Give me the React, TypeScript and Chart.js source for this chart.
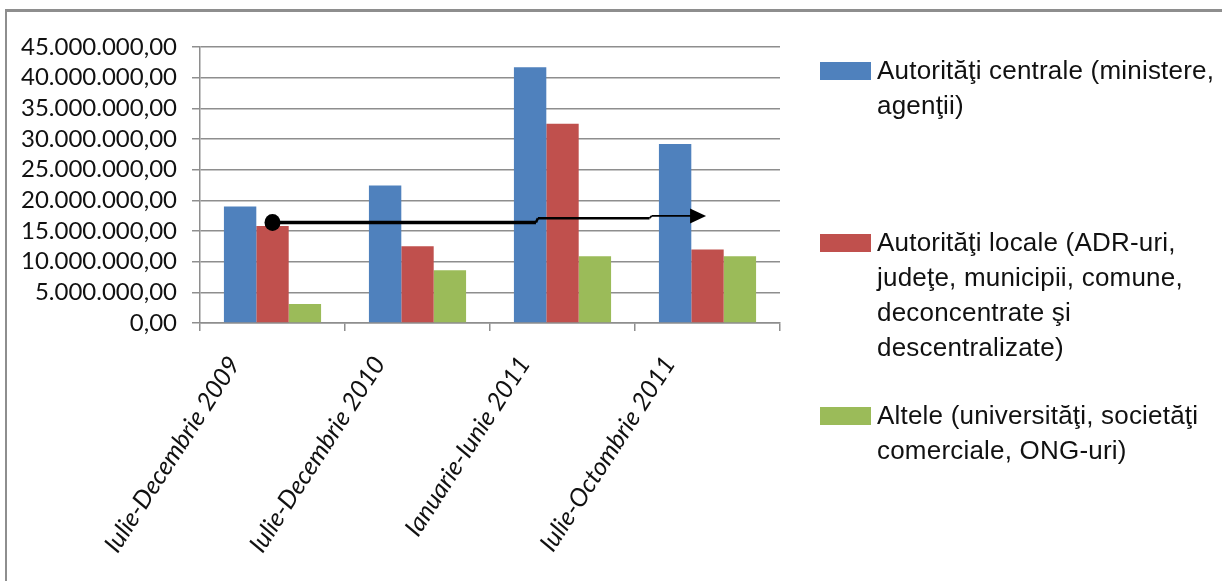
import React, { useEffect, useRef } from "react";
import { Chart, registerables } from "chart.js";

Chart.register(...registerables);

// Reporting periods on the category axis
const CATEGORIES = [
  "Iulie-Decembrie 2009",
  "Iulie-Decembrie 2010",
  "Ianuarie-Iunie 2011",
  "Iulie-Octombrie 2011",
];

// Amounts per beneficiary type (lei)
const CENTRALE = [19.0e6, 22.4e6, 41.7e6, 29.2e6];
const LOCALE = [15.8e6, 12.5e6, 32.5e6, 12.0e6];
const ALTELE = [3.1e6, 8.6e6, 10.9e6, 10.9e6];

// Legend texts, already broken into lines
const NAME_CENTRALE = ["Autorităţi centrale (ministere,", "agenţii)"];
const NAME_LOCALE = [
  "Autorităţi locale (ADR-uri,",
  "judeţe, municipii, comune,",
  "deconcentrate şi",
  "descentralizate)",
];
const NAME_ALTELE = ["Altele (universităţi, societăţi", "comerciale, ONG-uri)"];

// Value-axis ticks
const Y_MIN = 0;
const Y_MAX = 45e6;
const Y_STEP = 5e6;

// Trend arrow: positions in category units, levels in lei
const ARROW_AT = [0, 1.817, 1.83, 2.6, 2.615, 2.99];
const ARROW_LEVEL = [16.4e6, 16.4e6, 17.08e6, 17.08e6, 17.46e6, 17.46e6];

const COLORS = ["#4F81BD", "#C0504D", "#9BBB59"];
const GRID = "#8e8e8e";

const formatLei = (v: number) =>
  Math.round(v)
    .toString()
    .replace(/\B(?=(\d{3})+(?!\d))/g, ".") + ",00";

const arrowPlugin = {
  id: "trendArrow",
  afterDatasetsDraw(chart: any) {
    const { ctx, scales } = chart;
    const xs = ARROW_AT.map((a) => scales.x.getPixelForValue(a));
    const ys = ARROW_LEVEL.map((v) => scales.y.getPixelForValue(v));
    const widths = [3.5, 2.5, 2.5, 1.8, 1.8];
    ctx.save();
    ctx.strokeStyle = "#000";
    ctx.fillStyle = "#000";
    ctx.lineCap = "butt";
    const n = xs.length;
    const headLen = 16;
    for (let i = 0; i < n - 1; i++) {
      ctx.beginPath();
      ctx.lineWidth = widths[i];
      ctx.moveTo(xs[i], ys[i]);
      const endX = i === n - 2 ? xs[i + 1] - headLen + 1 : xs[i + 1];
      ctx.lineTo(endX, ys[i + 1]);
      ctx.stroke();
    }
    // start dot
    ctx.beginPath();
    ctx.ellipse(xs[0], ys[0], 8, 8.5, 0, 0, Math.PI * 2);
    ctx.fill();
    // arrow head
    const tx = xs[n - 1];
    const ty = ys[n - 1];
    ctx.beginPath();
    ctx.moveTo(tx, ty);
    ctx.lineTo(tx - headLen, ty - 7.5);
    ctx.lineTo(tx - headLen, ty + 7.5);
    ctx.closePath();
    ctx.fill();
    ctx.restore();
  },
};

const SERIES = [
  { lines: NAME_CENTRALE, data: CENTRALE },
  { lines: NAME_LOCALE, data: LOCALE },
  { lines: NAME_ALTELE, data: ALTELE },
];

// Top of each legend entry
const LEGEND_TOP = [53, 225, 398];

export default function App() {
  const canvasRef = useRef<HTMLCanvasElement | null>(null);

  useEffect(() => {
    if (!canvasRef.current) return;
    const chart = new Chart(canvasRef.current, {
      type: "bar",
      data: {
        labels: CATEGORIES,
        datasets: SERIES.map((s, i) => ({
          label: s.lines.join(" "),
          data: s.data,
          backgroundColor: COLORS[i],
          borderWidth: 0,
          categoryPercentage: 0.67,
          barPercentage: 1,
        })),
      },
      options: {
        animation: false,
        responsive: false,
        maintainAspectRatio: false,
        events: [],
        layout: { padding: { left: 0, top: 47, right: 442, bottom: 0 } },
        plugins: {
          legend: { display: false },
          tooltip: { enabled: false },
          title: { display: false },
        },
        scales: {
          x: {
            offset: true,
            grid: {
              display: true,
              drawOnChartArea: false,
              drawTicks: true,
              tickLength: 8,
              offset: true,
              color: GRID,
              lineWidth: 1.5,
            },
            border: { display: true, color: GRID, width: 1.5 },
            ticks: {
              autoSkip: false,
              maxRotation: 57,
              minRotation: 57,
              labelOffset: -38,
              padding: 20,
              color: "#111",
              font: { family: "Lato", size: 25, style: "italic" },
            },
            afterFit: (s: any) => {
              s.height = 581 - 323;
            },
          },
          y: {
            min: Y_MIN,
            max: Y_MAX,
            grid: {
              color: GRID,
              lineWidth: 1.5,
              drawTicks: true,
              tickLength: 8,
            },
            border: { display: true, color: GRID, width: 1.5 },
            ticks: {
              stepSize: Y_STEP,
              autoSkip: false,
              padding: 15,
              color: "#111",
              font: { family: "Lato", size: 24 },
              callback: (v: any) => formatLei(Number(v)),
            },
            afterFit: (s: any) => {
              s.width = 200;
            },
          },
        },
      },
      plugins: [arrowPlugin],
    });
    return () => chart.destroy();
  }, []);

  return (
    <div
      style={{
        position: "fixed",
        left: 0,
        top: 0,
        width: 1222,
        height: 581,
        overflow: "hidden",
        background: "#fff",
      }}
    >
      <div
        style={{
          position: "absolute",
          left: 5,
          top: 9,
          width: 1400,
          height: 800,
          borderTop: "3px solid #8e8e8e",
          borderLeft: "2px solid #8e8e8e",
        }}
      />
      <canvas
        ref={canvasRef}
        width={1222}
        height={581}
        style={{ position: "absolute", left: 0, top: 0, width: 1222, height: 581 }}
      />
      {SERIES.map((s, i) => (
        <div
          key={i}
          style={{
            position: "absolute",
            left: 820,
            top: LEGEND_TOP[i],
            fontFamily: "'Liberation Sans', Arial, sans-serif",
            fontSize: 26,
            letterSpacing: "0.2px",
            lineHeight: "35px",
            color: "#111",
            whiteSpace: "nowrap",
          }}
        >
          <span
            style={{
              position: "absolute",
              left: 0,
              top: 9,
              width: 51,
              height: 18,
              background: COLORS[i],
            }}
          />
          <div style={{ marginLeft: 57 }}>
            {s.lines.map((l, j) => (
              <div key={j}>{l}</div>
            ))}
          </div>
        </div>
      ))}
    </div>
  );
}
